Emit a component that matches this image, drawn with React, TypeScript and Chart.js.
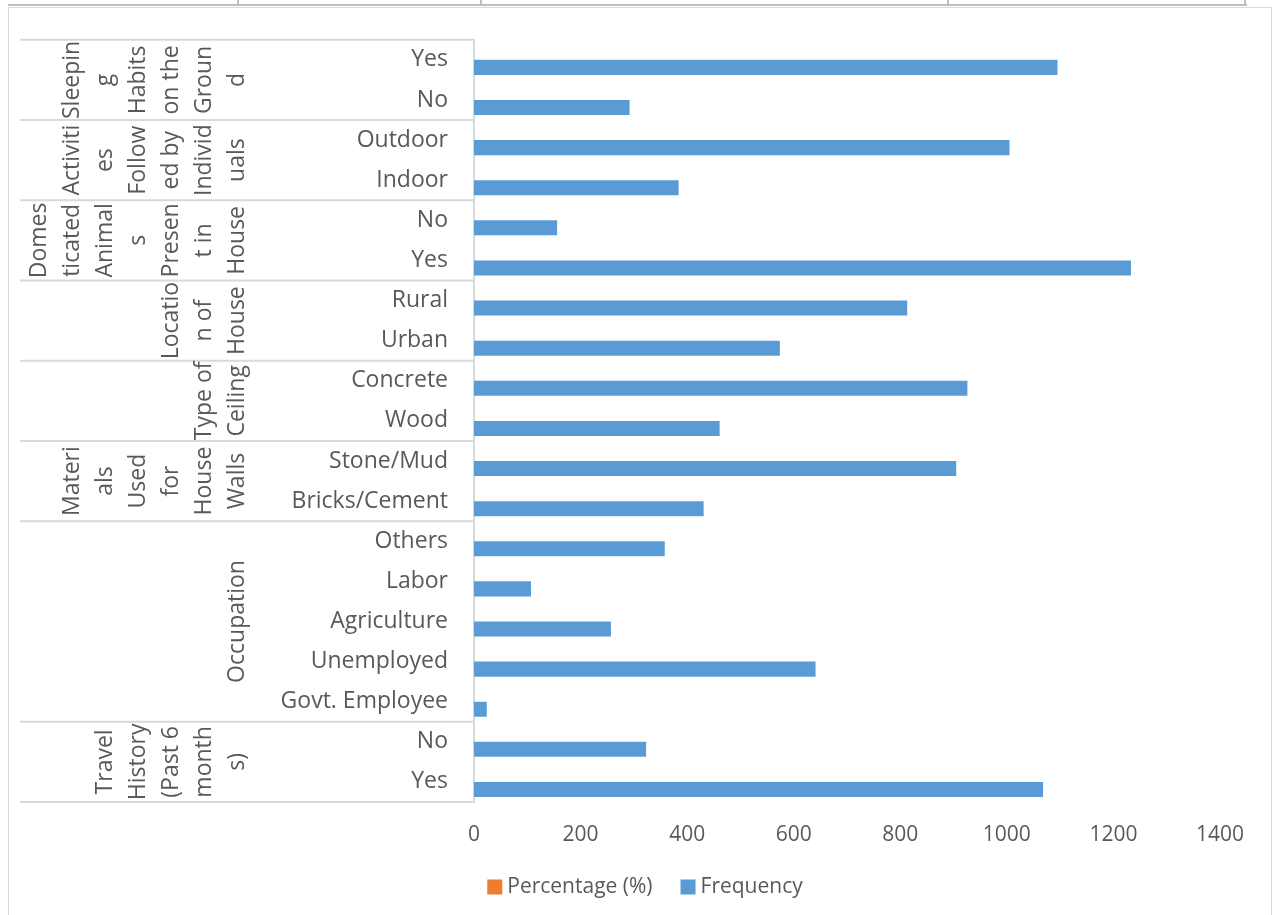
import React, { useEffect, useRef } from "react";
import { Chart, registerables } from "chart.js";

Chart.register(...registerables);

// ---- data ----
const categories = [
  "Yes", "No",
  "Outdoor", "Indoor",
  "No", "Yes",
  "Rural", "Urban",
  "Concrete", "Wood",
  "Stone/Mud", "Bricks/Cement",
  "Others", "Labor", "Agriculture", "Unemployed", "Govt. Employee",
  "No", "Yes",
];
const frequency = [
  1095, 292,
  1005, 384,
  156, 1233,
  813, 574,
  926, 461,
  905, 431,
  358, 107, 257, 641, 24,
  323, 1068,
];
const percentage = [
  null, null, null, null, null, null, null, null, null, null,
  null, null, null, null, null, null, null, null, null,
];
const groupSizes = [2, 2, 2, 2, 2, 2, 5, 2];
const groupLabelLines = [
  ["Sleepin", "g", "Habits", "on the", "Groun", "d"],
  ["Activiti", "es", "Follow", "ed by", "Individ", "uals"],
  ["Domes", "ticated", "Animal", "s", "Presen", "t in", "House"],
  ["Locatio", "n of", "House"],
  ["Type of", "Ceiling"],
  ["Materi", "als", "Used", "for", "House", "Walls"],
  ["Occupation"],
  ["Travel", "History", "(Past 6", "month", "s)"],
];
const xTicks = [0, 200, 400, 600, 800, 1000, 1200, 1400];
const seriesNames = ["Percentage (%)", "Frequency"];
const seriesColors = ["#ED7D31", "#5B9BD5"];

const FONT = "'Open Sans', 'Noto Sans', sans-serif";
const TEXT = "#595959";
const LINE = "#d9d9d9";

const groupPlugin = {
  id: "multiLevelGroups",
  afterDraw(chart: any) {
    const ctx = chart.ctx;
    const y = chart.scales.y;
    const area = chart.chartArea;
    const left = area.left;
    ctx.save();
    ctx.strokeStyle = LINE;
    ctx.lineWidth = 2;
    const bounds = [0];
    let acc = 0;
    groupSizes.forEach((s) => {
      acc += s;
      bounds.push(acc);
    });
    bounds.forEach((b) => {
      const py = y.getPixelForValue(b - 0.5);
      ctx.beginPath();
      ctx.moveTo(left - 454, py);
      ctx.lineTo(left, py);
      ctx.stroke();
    });
    ctx.fillStyle = TEXT;
    ctx.font = `23px ${FONT}`;
    ctx.textAlign = "center";
    ctx.textBaseline = "middle";
    let s0 = 0;
    groupLabelLines.forEach((lines, gi) => {
      const s1 = s0 + groupSizes[gi];
      const cy = (y.getPixelForValue(s0 - 0.5) + y.getPixelForValue(s1 - 0.5)) / 2;
      const n = lines.length;
      lines.forEach((ln, li) => {
        const cx = left - 237 - (n - 1 - li) * 33;
        ctx.save();
        ctx.translate(cx, cy);
        ctx.rotate(-Math.PI / 2);
        ctx.fillText(ln, 0, 0);
        ctx.restore();
      });
      s0 = s1;
    });

    // legend (Excel style: box, small gap, text)
    ctx.font = `21px ${FONT}`;
    ctx.textAlign = "left";
    ctx.textBaseline = "middle";
    const box = 15;
    const gap = 5;
    const itemGap = 28;
    const widths = seriesNames.map((nm) => box + gap + ctx.measureText(nm).width);
    const total = widths.reduce((a, b) => a + b, 0) + itemGap * (seriesNames.length - 1);
    const centerX = (area.left - 404 + area.right) / 2;
    const ly = 887;
    let lx = centerX - total / 2;
    seriesNames.forEach((nm, i) => {
      ctx.fillStyle = seriesColors[i];
      ctx.fillRect(lx, ly - box / 2, box, box);
      ctx.fillStyle = TEXT;
      ctx.fillText(nm, lx + box + gap, ly);
      lx += widths[i] + itemGap;
    });
    ctx.restore();
  },
};

export default function App() {
  const canvasRef = useRef<HTMLCanvasElement | null>(null);

  useEffect(() => {
    document.body.style.margin = "0";
    const canvas = canvasRef.current;
    if (!canvas) return;
    const chart = new Chart(canvas, {
      type: "bar",
      data: {
        labels: categories,
        datasets: [
          { label: seriesNames[0], data: percentage as any, backgroundColor: seriesColors[0], borderWidth: 0 },
          { label: seriesNames[1], data: frequency, backgroundColor: seriesColors[1], borderWidth: 0 },
        ],
      },
      options: {
        indexAxis: "y",
        responsive: false,
        animation: false,
        layout: { padding: { left: 70, right: 54, top: 36, bottom: 61 } },
        datasets: { bar: { categoryPercentage: 0.75, barPercentage: 1 } } as any,
        scales: {
          x: {
            min: 0,
            max: 1400,
            afterBuildTicks: (s: any) => {
              s.ticks = xTicks.map((v) => ({ value: v }));
            },
            ticks: {
              font: { family: FONT, size: 21 },
              color: TEXT,
              padding: 20,
              callback: (v: any) => String(v),
            },
            grid: { display: false, drawTicks: false },
            border: { display: false },
            afterFit: (s: any) => {
              s.height = 52;
            },
          },
          y: {
            ticks: { font: { family: FONT, size: 23 }, color: TEXT, padding: 26, autoSkip: false },
            grid: { display: false, drawTicks: false },
            border: { display: true, color: LINE, width: 2 },
            afterFit: (s: any) => {
              s.width = 404;
            },
          },
        },
        plugins: {
          legend: { display: false },
          tooltip: { enabled: false },
        },
      } as any,
      plugins: [groupPlugin],
    });
    return () => chart.destroy();
  }, []);

  const vline = (x: number) => (
    <div key={x} style={{ position: "absolute", left: x, top: 0, width: 2, height: 6, background: "#bfbfbf" }} />
  );

  return (
    <div style={{ position: "relative", width: 1274, height: 915, overflow: "hidden", background: "#fff" }}>
      <div style={{ position: "absolute", left: 8, top: 4, width: 1239, height: 2, background: "#bfbfbf" }} />
      {[237, 480, 947, 1244].map(vline)}
      <div
        style={{
          position: "absolute",
          left: 8,
          top: 7,
          width: 1264,
          height: 930,
          border: `1px solid ${LINE}`,
          boxSizing: "border-box",
        }}
      />
      <canvas
        ref={canvasRef}
        width={1274}
        height={915}
        style={{ position: "absolute", left: 0, top: 0, width: 1274, height: 915 }}
      />
    </div>
  );
}
